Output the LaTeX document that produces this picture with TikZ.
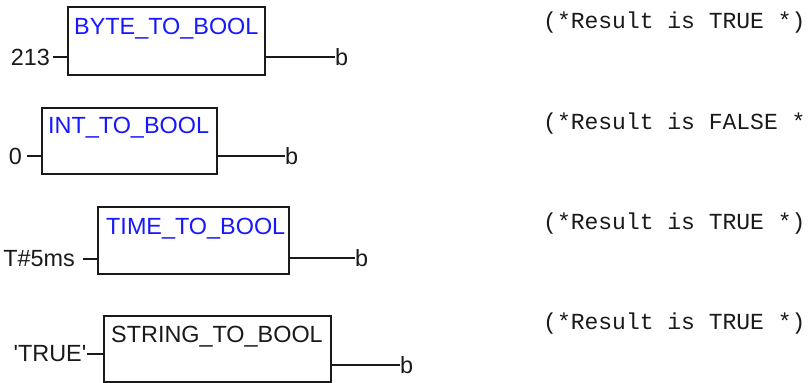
\documentclass[tikz,border=0pt]{standalone}
\usepackage{fontspec}
\setmainfont{Liberation Sans}
\newfontfamily\monof{Liberation Mono}
\definecolor{fbblue}{RGB}{24,24,255}
\definecolor{ink}{RGB}{26,26,26}
\tikzset{
  fbox/.style={draw=ink, line width=2pt, rectangle, inner sep=0pt},
  ttl/.style={anchor=base west, inner sep=0pt, font=\fontsize{23.4}{23.4}\selectfont},
  lbl/.style={anchor=east, inner ysep=0pt, text=ink, font=\fontsize{23.4}{23.4}\selectfont},
  outl/.style={anchor=west, inner sep=0pt, text=ink, font=\fontsize{23.4}{23.4}\selectfont},
  wire/.style={draw=ink, line width=1.5pt},
  cmt/.style={anchor=base west, inner sep=0pt, text=ink, font=\monof\fontsize{23}{23}\selectfont}
}
\begin{document}
\begin{tikzpicture}[x=1pt,y=-1pt]
\useasboundingbox (0,0) rectangle (809,383);
\clip (0,0) rectangle (809,383);
\fill[white] (0,0) rectangle (809,383);
% boxes
\node[fbox, minimum width=197pt, minimum height=68pt] (box1) at (166.5,41) {};
\node[fbox, minimum width=175pt, minimum height=66pt] (box2) at (129.5,141) {};
\node[fbox, minimum width=191pt, minimum height=67pt] (box3) at (193.5,240.5) {};
\node[fbox, minimum width=227pt, minimum height=66pt] (box4) at (217.5,349) {};
% titles
\node[ttl, text=fbblue] (t1) at (74,34) {BYTE\_TO\_BOOL};
\node[ttl, text=fbblue] (t2) at (48,133) {INT\_TO\_BOOL};
\node[ttl, text=fbblue] (t3) at (106,234) {TIME\_TO\_BOOL};
\node[ttl, text=ink] (t4) at (111,342) {STRING\_TO\_BOOL};
% inputs
\node[lbl, inner xsep=3pt] (in1) at (53,57) {213};
\node[lbl, inner xsep=5pt] (in2) at (27,156) {0};
\node[lbl, inner xsep=8pt] (in3) at (83,259) {T\#5ms};
\node[lbl, inner xsep=0.5pt] (in4) at (87,354) {\textquotesingle TRUE\textquotesingle};
\draw[wire] (in1.east) -- (in1.east -| box1.west);
\draw[wire] (in2.east) -- (in2.east -| box2.west);
\draw[wire] (in3.east) -- (in3.east -| box3.west);
\draw[wire] (in4.east) -- (in4.east -| box4.west);
% outputs
\node[outl] (o1) at (335,57) {b};
\node[outl] (o2) at (285,156) {b};
\node[outl] (o3) at (355,258) {b};
\node[outl] (o4) at (400,365) {b};
\draw[wire] (o1.west -| box1.east) -- (o1.west);
\draw[wire] (o2.west -| box2.east) -- (o2.west);
\draw[wire] (o3.west -| box3.east) -- (o3.west);
\draw[wire] (o4.west -| box4.east) -- (o4.west);
% comments
\node[cmt] (c1) at (543,28) {(*Result is TRUE *)};
\node[cmt] (c2) at (543,129) {(*Result is FALSE *)};
\node[cmt] (c3) at (543,229) {(*Result is TRUE *)};
\node[cmt] (c4) at (543,329) {(*Result is TRUE *)};
\end{tikzpicture}
\end{document}
